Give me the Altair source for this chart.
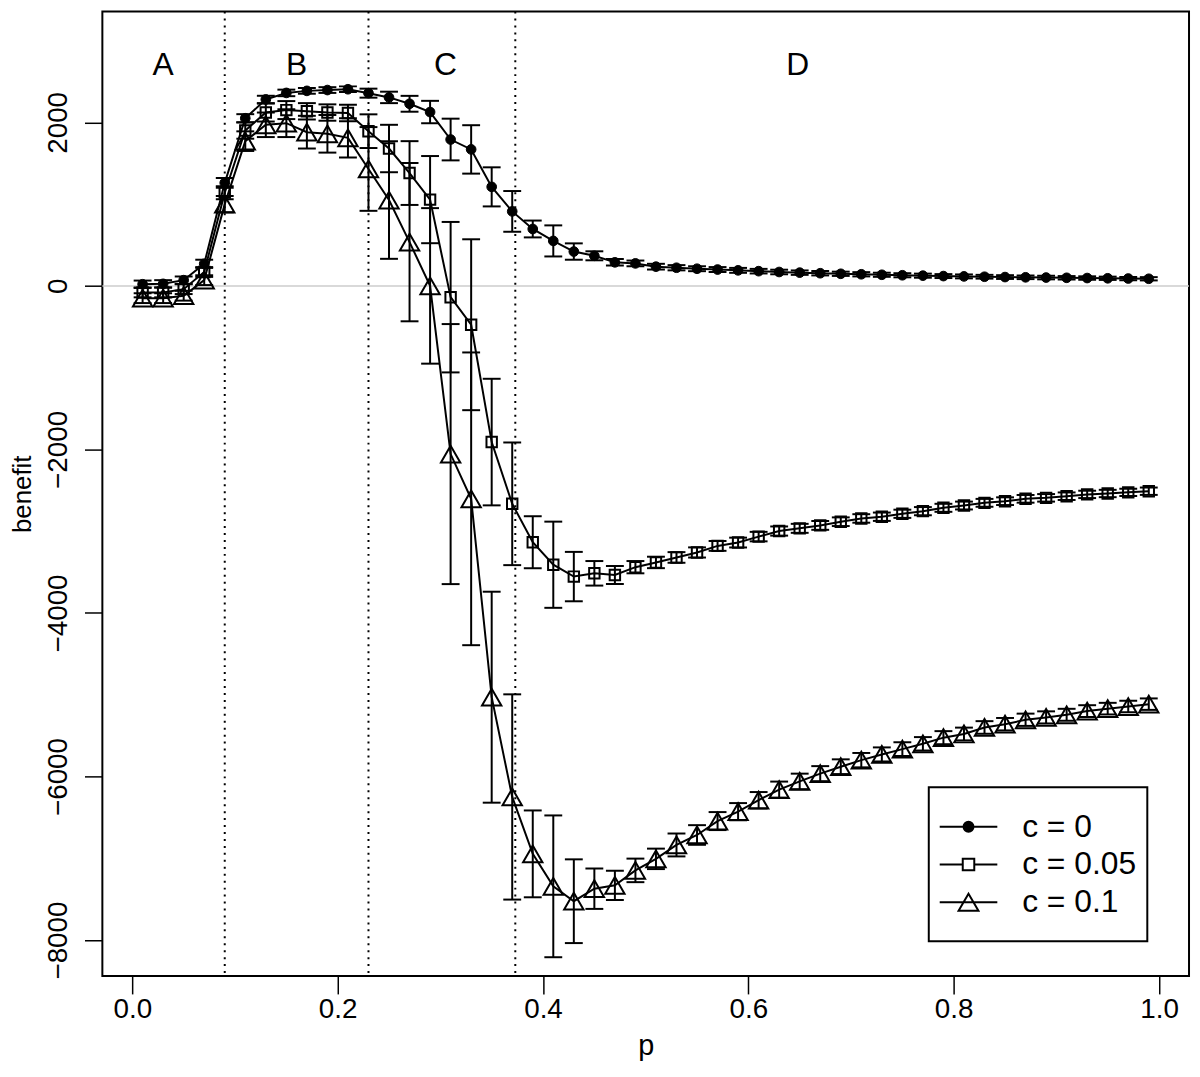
import altair as alt
import pandas as pd

# ---------------- data ----------------
p = [0.01, 0.03, 0.05, 0.07, 0.09, 0.11, 0.13, 0.15, 0.17, 0.19,
     0.21, 0.23, 0.25, 0.27, 0.29, 0.31, 0.33, 0.35, 0.37, 0.39,
     0.41, 0.43, 0.45, 0.47, 0.49, 0.51, 0.53, 0.55, 0.57, 0.59,
     0.61, 0.63, 0.65, 0.67, 0.69, 0.71, 0.73, 0.75, 0.77, 0.79,
     0.81, 0.83, 0.85, 0.87, 0.89, 0.91, 0.93, 0.95, 0.97, 0.99]

series_names = ["c = 0", "c = 0.05", "c = 0.1"]

benefit_c0 = [20, 25, 70, 270, 1260, 2050, 2280, 2360, 2385, 2395,
              2405, 2357, 2305, 2227, 2126, 1790, 1669, 1211, 911, 696,
              550, 420, 368, 288, 275, 235, 222, 210, 200, 190,
              180, 170, 162, 155, 148, 142, 136, 130, 125, 120,
              116, 112, 108, 105, 102, 99, 96, 93, 90, 87]
err_c0 = [45, 45, 45, 50, 60, 50, 45, 40, 35, 35,
          35, 55, 70, 97, 137, 255, 296, 239, 249, 103,
          190, 100, 55, 40, 35, 35, 32, 30, 30, 30,
          28, 28, 27, 27, 26, 26, 25, 25, 25, 24,
          24, 23, 23, 22, 22, 21, 21, 20, 20, 20]

benefit_c05 = [-80, -80, -40, 170, 1140, 1900, 2120, 2150, 2135, 2120,
               2114, 1892, 1680, 1380, 1055, -138, -475, -1910, -2665, -3135,
               -3410, -3555, -3515, -3535, -3440, -3382, -3321, -3260, -3180, -3139,
               -3066, -2998, -2965, -2929, -2884, -2844, -2823, -2787, -2755, -2714,
               -2686, -2653, -2633, -2604, -2592, -2572, -2550, -2539, -2525, -2511]
err_c05 = [60, 60, 60, 60, 80, 100, 110, 110, 100, 100,
           100, 206, 290, 390, 533, 920, 1045, 774, 750, 318,
           527, 302, 150, 110, 75, 70, 65, 62, 60, 60,
           58, 56, 55, 54, 53, 52, 51, 50, 50, 49,
           48, 48, 47, 47, 46, 46, 45, 45, 45, 45]

benefit_c1 = [-150, -150, -120, 70, 1000, 1770, 1970, 1990, 1880, 1860,
              1810, 1430, 1050, 535, 0, -2057, -2604, -5030, -6250, -6946,
              -7343, -7525, -7372, -7331, -7148, -7007, -6837, -6715, -6545, -6430,
              -6290, -6160, -6060, -5965, -5880, -5800, -5730, -5665, -5600, -5525,
              -5480, -5400, -5360, -5306, -5277, -5245, -5200, -5170, -5144, -5115]
err_c1 = [60, 60, 60, 60, 100, 120, 150, 170, 200, 230,
          240, 512, 719, 968, 951, 1590, 1790, 1290, 1255, 531,
          867, 512, 247, 178, 144, 125, 140, 120, 110, 105,
          100, 98, 95, 92, 90, 88, 86, 84, 82, 80,
          78, 77, 76, 75, 74, 73, 72, 71, 70, 70]

region_bounds = [0.09, 0.23, 0.373]
region_labels = ["A", "B", "C", "D"]
region_label_p = [0.03, 0.16, 0.305, 0.648]
region_label_benefit = [2700, 2700, 2700, 2700]

x_ticks = [0.0, 0.2, 0.4, 0.6, 0.8, 1.0]
y_ticks = [-8000, -6000, -4000, -2000, 0, 2000]

# ---------------- tables ----------------
rows = []
for name, vals, errs in zip(series_names,
                            [benefit_c0, benefit_c05, benefit_c1],
                            [err_c0, err_c05, err_c1]):
    for pi, v, e in zip(p, vals, errs):
        rows.append({"p": pi, "benefit": v, "err": e, "series": name})
df = pd.DataFrame(rows)

FONT = "Liberation Sans, Arial, sans-serif"

x_scale = alt.Scale(domain=[-0.0292, 1.0292], nice=False, zero=False)
y_scale = alt.Scale(domain=[-8440, 3355], nice=False, zero=False)

x_axis = alt.Axis(values=x_ticks, format=".1f", title="p",
                  labelFont=FONT, labelFontSize=28, labelColor="black",
                  labelPadding=2, labelFlush=False,
                  tickSize=18, tickWidth=1.5, tickColor="black",
                  domain=False, grid=False,
                  titleFont=FONT, titleFontSize=29, titleFontWeight="normal",
                  titleColor="black", titleY=79, titleBaseline="alphabetic")
y_axis = alt.Axis(values=y_ticks, format="d", title="benefit",
                  labelFont=FONT, labelFontSize=28, labelColor="black",
                  labelAngle=270, labelAlign="center", labelBaseline="bottom",
                  labelPadding=12, labelFlush=False,
                  tickSize=18, tickWidth=1.5, tickColor="black",
                  domain=False, grid=False,
                  titleFont=FONT, titleFontSize=26, titleFontWeight="normal",
                  titleColor="black", titleX=-80, titleBaseline="middle")

X = alt.X("p:Q", scale=x_scale, axis=x_axis, title="p")


def Y(field):
    return alt.Y(field, scale=y_scale, axis=y_axis, title="benefit")


base = alt.Chart(df)

zero_line = alt.Chart(pd.DataFrame({"benefit": [0]})).mark_rule(
    color="#cccccc", strokeWidth=1.5).encode(y=Y("benefit:Q"))

vlines = alt.Chart(pd.DataFrame({"p": region_bounds})).mark_rule(
    color="black", strokeWidth=2, strokeDash=[2, 5]).encode(x=X)

letters = alt.Chart(pd.DataFrame({"p": region_label_p,
                                  "benefit": region_label_benefit,
                                  "label": region_labels})).mark_text(
    font=FONT, fontSize=32, color="black", baseline="middle").encode(
    x=X, y=Y("benefit:Q"), text="label:N")

with_bounds = base.transform_calculate(lo="datum.benefit - datum.err",
                                       hi="datum.benefit + datum.err")
err_rules = with_bounds.mark_rule(color="black", strokeWidth=2).encode(
    x=X, y=Y("lo:Q"), y2="hi:Q", detail="series:N")
caps_lo = with_bounds.mark_tick(orient="horizontal", size=18, thickness=2,
                                color="black", opacity=1).encode(x=X, y=Y("lo:Q"))
caps_hi = with_bounds.mark_tick(orient="horizontal", size=18, thickness=2,
                                color="black", opacity=1).encode(x=X, y=Y("hi:Q"))

lines = base.mark_line(color="black", strokeWidth=2).encode(
    x=X, y=Y("benefit:Q"), detail="series:N", order="p:Q")

pts_c0 = base.transform_filter(alt.datum.series == series_names[0]).mark_point(
    shape="circle", size=95, filled=True, fill="black", stroke="black",
    strokeWidth=1, opacity=1).encode(x=X, y=Y("benefit:Q"))
pts_c05 = base.transform_filter(alt.datum.series == series_names[1]).mark_point(
    shape="square", size=110, filled=False, fill="transparent", stroke="black",
    strokeWidth=2, opacity=1).encode(x=X, y=Y("benefit:Q"))
pts_c1 = base.transform_filter(alt.datum.series == series_names[2]).mark_point(
    shape="triangle-up", size=380, filled=False, fill="transparent", stroke="black",
    strokeWidth=2, opacity=1).encode(x=X, y=Y("benefit:Q"))

# legend-only layer: no rows survive the filter, entries come from the explicit domain.
# Each legend symbol is "line + marker"; the lone move-to points only widen the entry box.
legend_shapes = [
    "M-2.9,0L2.9,0M0.5,0A0.5,0.5,0,1,1,-0.5,0A0.5,0.5,0,1,1,0.5,0Z",
    "M17.1,0M-2.9,0L-0.58,0M0.58,0L2.9,0M-0.58,-0.58L0.58,-0.58L0.58,0.58L-0.58,0.58Z",
    "M0,3.0M-2.9,0L2.9,0M0,-0.85L1,0.85L-1,0.85Z",
]
legend = alt.Legend(
    title=" ", titleFontSize=12, titlePadding=6.7,
    orient="none", legendX=832, legendY=781,
    strokeColor="black", fillColor="white", padding=5,
    symbolSize=400, symbolStrokeWidth=2, symbolStrokeColor="black",
    symbolOffset=19, labelOffset=38,
    labelFont=FONT, labelFontSize=32, labelColor="black",
    rowPadding=6,
)
legend_scale = alt.Scale(domain=series_names, range=legend_shapes)
legend_layer = base.transform_filter("false").mark_point(
    strokeWidth=2, opacity=1).encode(
    x=X, y=Y("benefit:Q"),
    shape=alt.Shape("series:N", scale=legend_scale, legend=legend),
    fill=alt.Fill("series:N",
                  scale=alt.Scale(domain=series_names,
                                  range=["black", "transparent", "transparent"]),
                  legend=legend),
    stroke=alt.Stroke("series:N",
                      scale=alt.Scale(domain=series_names,
                                      range=["black", "black", "black"]),
                      legend=legend),
)

chart = alt.layer(zero_line, vlines, letters, err_rules, caps_lo, caps_hi,
                  lines, pts_c0, pts_c05, pts_c1, legend_layer).properties(
    width=1094, height=971,
    autosize=alt.AutoSizeParams(type="none"),
    padding={"left": 95, "top": 0, "right": 3, "bottom": 87},
    background="white",
).configure_view(stroke="black", strokeWidth=2).configure_legend(strokeWidth=2)

chart.save("out.html", embed_options={"renderer": "svg", "actions": False})
